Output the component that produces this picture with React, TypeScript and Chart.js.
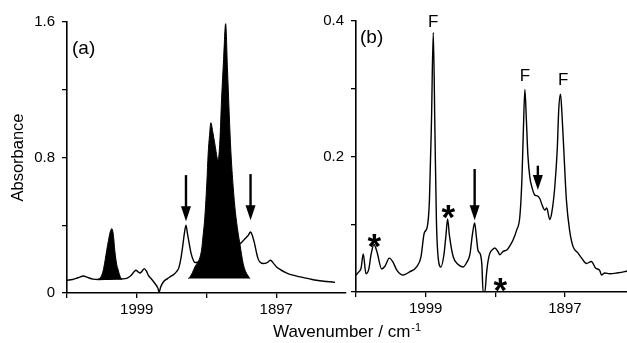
import React, { useEffect, useRef } from 'react';
import { Chart, registerables } from 'chart.js';

Chart.register(...registerables);

const FONT = "'Liberation Sans', Arial, Helvetica, sans-serif";
const INK = '#000000';

// ---------- Panel (a): spectrum ----------
const aWavenumber = [
  2050, 2046, 2042, 2038, 2035, 2031, 2027, 2020, 2014, 2010, 2006, 2003, 2001, 1999.6, 1998, 1996.7,
  1995, 1993.5, 1992, 1990.6, 1988, 1985.7, 1983.6, 1982.6, 1981.5, 1979.6, 1976.5, 1974.7, 1971.5,
  1969.5, 1968.2, 1966.8, 1965.5, 1964.2, 1963.0, 1961.9, 1960.6, 1959.3, 1958.2, 1956.5, 1952, 1945,
  1935, 1928, 1923.6, 1921.5, 1919.9, 1917.5, 1915.8, 1914.5, 1913.1, 1911.5, 1910.2, 1908.5, 1906.6,
  1904, 1901.2, 1899, 1896.8, 1894, 1890, 1887, 1882, 1877, 1872, 1867.5, 1860, 1854,
];
const aAbsorbance = [
  0.075, 0.080, 0.090, 0.100, 0.092, 0.082, 0.080, 0.081, 0.082, 0.083, 0.088, 0.105, 0.125, 0.134, 0.125, 0.118,
  0.130, 0.144, 0.130, 0.105, 0.080, 0.056, 0.030, 0.006, 0.035, 0.065, 0.085, 0.095, 0.112,
  0.130, 0.150, 0.200, 0.270, 0.350, 0.400, 0.350, 0.290, 0.235, 0.205, 0.180, 0.185, 0.210,
  0.240, 0.265, 0.290, 0.305, 0.320, 0.340, 0.360, 0.340, 0.300, 0.240, 0.200, 0.180, 0.174,
  0.178, 0.193, 0.175, 0.154, 0.138, 0.120, 0.110, 0.100, 0.091, 0.082, 0.075, 0.068, 0.063,
];

// Panel (a): black-filled bands
const aSmallBandWavenumber = [2027.3, 2025.2, 2023.5, 2022.2, 2021.0, 2019.7, 2018.4, 2017.3, 2016.2, 2014.9, 2013.7, 2012.5, 2011.3, 2010.0];
const aSmallBandAbsorbance = [0.081, 0.095, 0.134, 0.190, 0.250, 0.310, 0.360, 0.380, 0.350, 0.240, 0.170, 0.134, 0.100, 0.081];
const aSmallBandBase = 0.081;

const aBigBandWavenumber = [
  1961.4, 1960.1, 1958.3, 1956.5, 1954.5, 1952.8, 1951.5, 1950.6, 1949.2, 1947.7, 1946.8, 1945.8, 1944.8,
  1943.4, 1941.9, 1939.5, 1938.2, 1937.0, 1935.5, 1934.0, 1932.7, 1931.4, 1930.2, 1928.5, 1926.9, 1925.0,
  1923.6, 1921.2, 1919.3, 1917.5, 1916.3,
];
const aBigBandAbsorbance = [
  0.085, 0.095, 0.120, 0.154, 0.180, 0.210, 0.260, 0.330, 0.450, 0.660, 0.820, 0.930, 1.005,
  0.950, 0.880, 0.784, 0.900, 1.140, 1.380, 1.590, 1.330, 1.060, 0.840, 0.627, 0.480, 0.360,
  0.290, 0.174, 0.125, 0.100, 0.085,
];
const aBigBandBase = 0.085;

// ---------- Panel (b): spectrum ----------
const bWavenumber = [
  2050, 2047.8, 2046.3, 2044.7, 2042.7, 2040.5, 2039.0, 2036.8, 2034.6, 2031.2, 2028.8, 2025.6, 2022.9,
  2020.0, 2015.4, 2010.5, 2005.6, 2002.4, 2000.0, 1997.8, 1996.2, 1994.7, 1993.4, 1992.2, 1991.1, 1990.0,
  1987.8, 1985.6, 1984.1, 1982.9, 1981.6, 1978.8, 1975.4, 1971.5, 1968.8, 1966.6, 1964.8, 1963.1, 1961.8,
  1960.7, 1958.8, 1957.8, 1956.9, 1955.6, 1954.5, 1953.4, 1952.0, 1949.8, 1948.3, 1946.1, 1944.6, 1942.2,
  1939.5, 1937.3, 1934.9, 1932.2, 1930.0, 1928.5, 1927.4, 1926.3, 1925.2, 1924.1, 1922.7, 1920.9, 1919.0,
  1917.2, 1915.4, 1913.6, 1911.7, 1910.3, 1908.1, 1906.6, 1904.4, 1902.6, 1901.5, 1900.2, 1899.3, 1897.8,
  1895.9, 1893.4, 1891.0, 1887.6, 1884.7, 1881.2, 1877.6, 1874.4, 1871.5, 1870.2, 1867.8, 1864.2, 1859.0,
  1853.2, 1851.5,
];
const bAbsorbance = [
  0.025, 0.030, 0.035, 0.056, 0.027, 0.035, 0.055, 0.070, 0.059, 0.034, 0.038, 0.050, 0.044,
  0.032, 0.025, 0.030, 0.037, 0.052, 0.087, 0.096, 0.136, 0.254, 0.383, 0.239, 0.106, 0.055,
  0.037, 0.055, 0.084, 0.108, 0.084, 0.052, 0.041, 0.037, 0.044, 0.055, 0.084, 0.102, 0.081,
  0.062, 0.055, 0.040, 0.000, 0.000, 0.025, 0.044, 0.057, 0.063, 0.065, 0.060, 0.055, 0.060,
  0.062, 0.068, 0.077, 0.092, 0.111, 0.165, 0.239, 0.299, 0.254, 0.202, 0.170, 0.153, 0.143,
  0.142, 0.138, 0.128, 0.121, 0.124, 0.107, 0.117, 0.155, 0.210, 0.269, 0.292, 0.269, 0.210,
  0.136, 0.089, 0.067, 0.058, 0.050, 0.042, 0.045, 0.035, 0.032, 0.025, 0.028, 0.027, 0.028,
  0.030, 0.031,
];

// ---------- Axes ----------
const aXRange = [1846, 2050];
const bXRange = [1851.5, 2050];
const xTickValues = [2050, 1999, 1948, 1897];
const xTickLabels = ['', '1999', '', '1897'];
const aYTickValues = [0, 0.4, 0.8, 1.2, 1.6];
const aYTickLabels = ['0', '', '0.8', '', '1.6'];
const bYTickValues = [0, 0.1, 0.2, 0.3, 0.4];
const bYTickLabels = ['', '', '0.2', '', '0.4'];

// ---------- Annotations (data coordinates) ----------
const aArrowX = [1963.0, 1915.8];
const aArrowFrom = [0.696, 0.702];
const aArrowTo = [0.424, 0.43];
const bArrowX = [1963.1, 1916.8];
const bArrowFrom = [0.1815, 0.1864];
const bArrowTo = [0.106, 0.1506];
const bFX = [1993.4, 1926.3, 1898.3];
const bFY = [0.3985, 0.319, 0.313];
const bStarX = [2036.5, 1982.4, 1944.3];
const bStarY = [0.080, 0.122, 0.0148];

const pts = (xs: number[], ys: number[]) => xs.map((x, i) => ({ x, y: ys[i] }));

function makeScales(opts: {
  xRange: number[]; yMax: number; yTicks: number[]; yLabels: string[];
  yWidth: number; xHeight: number; yTitle?: string;
}) {
  const tickFont = { family: FONT, size: 15 };
  return {
    x: {
      type: 'linear',
      reverse: true,
      min: opts.xRange[0],
      max: opts.xRange[1],
      afterBuildTicks: (s: any) => { s.ticks = xTickValues.map((v) => ({ value: v })); },
      afterFit: (s: any) => { s.height = opts.xHeight; },
      ticks: {
        autoSkip: false, maxRotation: 0, minRotation: 0, padding: 3, color: INK, font: tickFont,
        callback: (_v: any, i: number) => xTickLabels[i],
      },
      grid: { drawOnChartArea: false, drawTicks: true, tickLength: 5, color: INK, lineWidth: 1.3 },
      border: { display: true, color: INK, width: 1.6 },
    },
    y: {
      type: 'linear',
      min: 0,
      max: opts.yMax,
      afterBuildTicks: (s: any) => { s.ticks = opts.yTicks.map((v) => ({ value: v })); },
      afterFit: (s: any) => { s.width = opts.yWidth; },
      ticks: {
        autoSkip: false, padding: 7, color: INK, font: tickFont,
        callback: (_v: any, i: number) => opts.yLabels[i],
      },
      grid: { drawOnChartArea: false, drawTicks: true, tickLength: 5, color: INK, lineWidth: 1.3 },
      border: { display: true, color: INK, width: 1.6 },
      title: opts.yTitle
        ? { display: true, text: opts.yTitle, color: INK, font: { family: FONT, size: 16.5 }, padding: { top: 9, bottom: 0 } }
        : { display: false },
    },
  };
}

function drawArrow(ctx: CanvasRenderingContext2D, x: number, yFrom: number, yTo: number) {
  const headLen = 15;
  const halfW = 5;
  ctx.save();
  ctx.strokeStyle = INK;
  ctx.fillStyle = INK;
  ctx.lineWidth = 2.4;
  ctx.beginPath();
  ctx.moveTo(x, yFrom);
  ctx.lineTo(x, yTo - headLen + 1);
  ctx.stroke();
  ctx.beginPath();
  ctx.moveTo(x - halfW, yTo - headLen);
  ctx.lineTo(x + halfW, yTo - headLen);
  ctx.lineTo(x, yTo);
  ctx.closePath();
  ctx.fill();
  ctx.restore();
}

function drawStar(ctx: CanvasRenderingContext2D, cx: number, cy: number) {
  const size = 35;
  ctx.save();
  ctx.fillStyle = INK;
  ctx.font = `bold ${size}px ${FONT}`;
  ctx.textAlign = 'center';
  ctx.textBaseline = 'alphabetic';
  ctx.fillText('*', cx, cy + 0.57 * size);
  ctx.restore();
}

const annotateA = {
  id: 'annotateA',
  afterDraw(chart: any) {
    const { ctx, chartArea, scales } = chart;
    const xs = scales.x;
    const ys = scales.y;
    ctx.save();
    ctx.fillStyle = INK;
    ctx.font = `19px ${FONT}`;
    ctx.textAlign = 'left';
    ctx.textBaseline = 'middle';
    ctx.fillText('(a)', chartArea.left + 5, chartArea.top + 27);
    for (let i = 0; i < aArrowX.length; i++) {
      const px = xs.getPixelForValue(aArrowX[i]);
      drawArrow(ctx, px, ys.getPixelForValue(aArrowFrom[i]), ys.getPixelForValue(aArrowTo[i]));
    }
    // shared x-axis title
    ctx.font = `17px ${FONT}`;
    ctx.textBaseline = 'alphabetic';
    const main = 'Wavenumber / cm';
    const startX = 273;
    ctx.fillText(main, startX, 337);
    const w = ctx.measureText(main).width;
    ctx.font = `11px ${FONT}`;
    ctx.fillText('-1', startX + w + 1, 331);
    ctx.restore();
  },
};

const annotateB = {
  id: 'annotateB',
  afterDraw(chart: any) {
    const { ctx, chartArea, scales } = chart;
    const xs = scales.x;
    const ys = scales.y;
    ctx.save();
    ctx.fillStyle = INK;
    ctx.font = `19px ${FONT}`;
    ctx.textAlign = 'left';
    ctx.textBaseline = 'middle';
    ctx.fillText('(b)', chartArea.left + 4, chartArea.top + 17);
    ctx.font = `17px ${FONT}`;
    ctx.textAlign = 'center';
    for (let i = 0; i < bFX.length; i++) {
      ctx.fillText('F', xs.getPixelForValue(bFX[i]), ys.getPixelForValue(bFY[i]));
    }
    for (let i = 0; i < bStarX.length; i++) {
      drawStar(ctx, xs.getPixelForValue(bStarX[i]), ys.getPixelForValue(bStarY[i]));
    }
    for (let i = 0; i < bArrowX.length; i++) {
      const px = xs.getPixelForValue(bArrowX[i]);
      drawArrow(ctx, px, ys.getPixelForValue(bArrowFrom[i]), ys.getPixelForValue(bArrowTo[i]));
    }
    ctx.restore();
  },
};

const lineStyle = {
  borderColor: INK,
  borderWidth: 1.4,
  pointRadius: 0,
  fill: false,
  cubicInterpolationMode: 'monotone',
};

export default function App() {
  const refA = useRef<HTMLCanvasElement>(null);
  const refB = useRef<HTMLCanvasElement>(null);

  useEffect(() => {
    const common = {
      responsive: false,
      animation: false,
      events: [],
      plugins: { legend: { display: false }, tooltip: { enabled: false } },
    };
    const chartA = new Chart(refA.current as HTMLCanvasElement, {
      type: 'line',
      data: {
        datasets: [
          {
            ...lineStyle,
            data: pts(aBigBandWavenumber, aBigBandAbsorbance),
            backgroundColor: INK,
            borderWidth: 1,
            fill: { value: aBigBandBase },
          },
          {
            ...lineStyle,
            data: pts(aSmallBandWavenumber, aSmallBandAbsorbance),
            backgroundColor: INK,
            borderWidth: 1,
            fill: { value: aSmallBandBase },
          },
          { ...lineStyle, data: pts(aWavenumber, aAbsorbance) },
        ],
      } as any,
      options: {
        ...common,
        layout: { padding: { left: 0, right: 627 - 346, top: 22, bottom: 0 } },
        scales: makeScales({
          xRange: aXRange, yMax: 1.6, yTicks: aYTickValues, yLabels: aYTickLabels,
          yWidth: 67, xHeight: 50, yTitle: 'Absorbance',
        }),
      } as any,
      plugins: [annotateA],
    });
    const chartB = new Chart(refB.current as HTMLCanvasElement, {
      type: 'line',
      data: {
        datasets: [{ ...lineStyle, data: pts(bWavenumber, bAbsorbance) }],
      } as any,
      options: {
        ...common,
        layout: { padding: { left: 290, right: 0, top: 21, bottom: 0 } },
        scales: makeScales({
          xRange: bXRange, yMax: 0.4, yTicks: bYTickValues, yLabels: bYTickLabels,
          yWidth: 66, xHeight: 51,
        }),
      } as any,
      plugins: [annotateB],
    });
    return () => {
      chartA.destroy();
      chartB.destroy();
    };
  }, []);

  return (
    <div style={{ position: 'absolute', left: 0, top: 0, width: 627, height: 343, background: '#ffffff' }}>
      <canvas ref={refA} width={627} height={343} style={{ position: 'absolute', left: 0, top: 0 }} />
      <canvas ref={refB} width={627} height={343} style={{ position: 'absolute', left: 0, top: 0 }} />
    </div>
  );
}
